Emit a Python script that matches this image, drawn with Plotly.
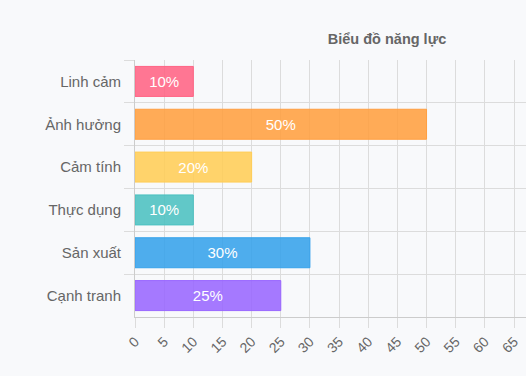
import plotly.graph_objects as go

categories = ["Linh cảm", "Ảnh hưởng", "Cảm tính", "Thực dụng", "Sản xuất", "Cạnh tranh"]
values = [10, 50, 20, 10, 30, 25]
bar_colors = ["rgba(255,99,132,0.88)", "rgba(255,159,64,0.88)", "rgba(255,205,86,0.88)",
              "rgba(75,192,192,0.88)", "rgba(54,162,235,0.88)", "rgba(153,102,255,0.88)"]
border_colors = ["rgb(255,99,132)", "rgb(255,159,64)", "rgb(255,205,86)",
                 "rgb(75,192,192)", "rgb(54,162,235)", "rgb(153,102,255)"]
x_ticks = list(range(0, 70, 5))
title_text = "Biểu đồ năng lực"

W, H = 526, 376
L, R, T, B = 135, 0, 60, 59
BG = "#f8f9fb"
GRID = "#dcdcdc"
FONT = "Liberation Sans, Arial, sans-serif"

fig = go.Figure(go.Bar(
    x=values, y=categories, orientation="h",
    marker=dict(color=bar_colors, line=dict(color=border_colors, width=1)),
    text=[f"{v}%" for v in values], textposition="inside",
    insidetextanchor="middle", textangle=0,
    textfont=dict(color="white", size=15, family=FONT),
    hoverinfo="skip",
))

fig.update_layout(
    width=W, height=H,
    margin=dict(l=L, r=R, t=T, b=B, pad=0),
    paper_bgcolor=BG, plot_bgcolor=BG,
    bargap=0.3,
    showlegend=False,
    font=dict(family=FONT, color="#666666"),
    title=dict(text=f"<b>{title_text}</b>", x=387 / W, xanchor="center", xref="container",
               y=1 - 39 / H, yanchor="middle", yref="container",
               font=dict(size=14.5, color="#666666", family=FONT)),
)
fig.update_xaxes(
    range=[0, (W - L) / (379 / 65)], tickvals=x_ticks, ticktext=[str(t) for t in x_ticks],
    tickangle=-45, tickfont=dict(size=14, color="#666666"),
    showgrid=True, gridcolor=GRID, gridwidth=1,
    ticks="outside", ticklen=10, tickcolor=GRID,
    showline=True, linecolor="#cccccc", linewidth=1,
    zeroline=False, fixedrange=True,
)
fig.update_yaxes(
    categoryorder="array", categoryarray=categories, autorange="reversed",
    tickson="boundaries", showgrid=True, gridcolor=GRID, gridwidth=1,
    ticks="outside", ticklen=10, tickcolor=GRID, ticklabelstandoff=10,
    tickfont=dict(size=15, color="#666666"),
    showline=True, linecolor="#cccccc", linewidth=1, mirror=False,
    fixedrange=True,
)

fig.write_html(
    "out.html",
    config={"displayModeBar": False},
    post_script="document.body.style.margin='0';document.body.style.overflow='hidden';"
                "document.body.style.background='#f8f9fb';",
)
